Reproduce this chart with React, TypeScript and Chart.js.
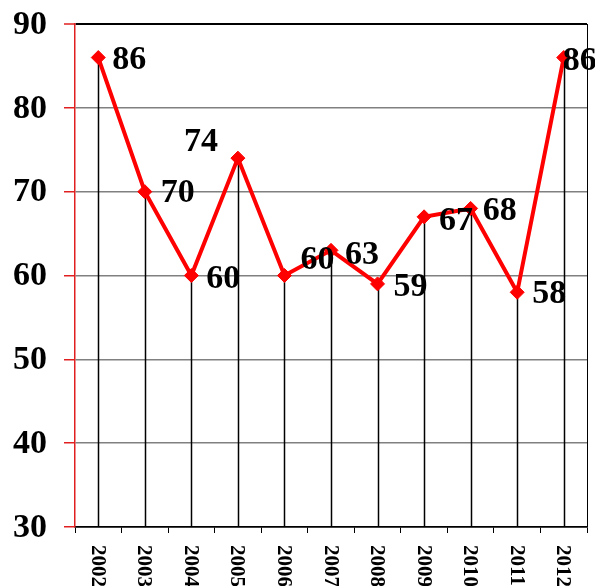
import React, { useEffect, useRef } from "react";
import { Chart, registerables } from "chart.js";

Chart.register(...registerables);

const years = ["2002", "2003", "2004", "2005", "2006", "2007", "2008", "2009", "2010", "2011", "2012"];
const values = [86, 70, 60, 74, 60, 63, 59, 67, 68, 58, 86];
const yTicks = [30, 40, 50, 60, 70, 80, 90];

// label placement relative to each point: [dx, dy, align]
const labelPlacement: [number, number, CanvasTextAlign][] = [
  [14, 3, "left"],
  [16, 2, "left"],
  [15, 4, "left"],
  [-20, -16, "right"],
  [16, -15, "left"],
  [14, 5, "left"],
  [16, 3, "left"],
  [15, 4, "left"],
  [12, 3, "left"],
  [15, 2, "left"],
  [-1, 4, "left"],
];

const SERIF = "'Liberation Serif', 'Times New Roman', Tinos, serif";

const decorPlugin = {
  id: "decor",
  beforeDatasetsDraw(chart: any) {
    const { ctx, chartArea } = chart;
    const meta = chart.getDatasetMeta(0);
    ctx.save();
    ctx.strokeStyle = "#000";
    ctx.lineWidth = 1.5;
    meta.data.forEach((pt: any) => {
      ctx.beginPath();
      ctx.moveTo(Math.round(pt.x) + 0.5, pt.y);
      ctx.lineTo(Math.round(pt.x) + 0.5, chartArea.bottom);
      ctx.stroke();
    });
    ctx.lineWidth = 1;
    ctx.beginPath();
    ctx.moveTo(chartArea.right + 0.5, chartArea.top);
    ctx.lineTo(chartArea.right + 0.5, chartArea.bottom);
    ctx.stroke();
    ctx.restore();
  },
  afterDatasetsDraw(chart: any) {
    const { ctx } = chart;
    const meta = chart.getDatasetMeta(0);
    ctx.save();
    ctx.fillStyle = "#000";
    ctx.font = `bold 34px ${SERIF}`;
    ctx.textBaseline = "middle";
    meta.data.forEach((pt: any, i: number) => {
      const [dx, dy, align] = labelPlacement[i];
      ctx.textAlign = align;
      ctx.fillText(String(values[i]), pt.x + dx, pt.y + dy);
    });
    const xs = chart.scales.x;
    ctx.font = `bold 21px ${SERIF}`;
    ctx.textAlign = "left";
    ctx.textBaseline = "middle";
    years.forEach((y, i) => {
      const x = xs.getPixelForValue(i);
      ctx.save();
      ctx.translate(x - 1, chart.chartArea.bottom + 18);
      ctx.rotate(Math.PI / 2);
      ctx.fillText(y, 0, 0);
      ctx.restore();
    });
    ctx.restore();
  },
};

export default function App() {
  const ref = useRef<HTMLCanvasElement>(null);
  useEffect(() => {
    document.body.style.margin = "0";
    let chart: any = null;
    let cancelled = false;
    const build = () => {
      if (cancelled || !ref.current) return;
      chart = new Chart(ref.current, {
        type: "line",
        data: {
          labels: years,
          datasets: [
            {
              data: values,
              borderColor: "#ff0000",
              backgroundColor: "#ff0000",
              borderWidth: 4,
              pointStyle: "rectRot",
              pointRadius: 7,
              pointBorderWidth: 1,
              pointBackgroundColor: "#ff0000",
              pointBorderColor: "#ff0000",
              tension: 0,
            },
          ],
        },
        options: {
          responsive: false,
          animation: false,
          devicePixelRatio: 1,
          layout: { padding: { top: 24, right: 8, left: 0, bottom: 0 } },
          plugins: { legend: { display: false }, tooltip: { enabled: false } },
          scales: {
            x: {
              type: "category",
              offset: true,
              grid: {
                offset: true,
                drawOnChartArea: false,
                drawTicks: true,
                tickLength: 6,
                color: "#000",
                tickColor: "#000",
                lineWidth: 1,
              },
              border: { color: "#000", width: 1.5 },
              ticks: { display: false },
              afterFit(scale: any) {
                scale.height = 59;
                scale.paddingLeft = 0;
                scale.paddingRight = 0;
              },
            },
            y: {
              min: 30,
              max: 90,
              afterBuildTicks(scale: any) {
                scale.ticks = yTicks.map((v) => ({ value: v }));
              },
              grid: {
                color: (c: any) => (c.tick && (c.tick.value === 90 || c.tick.value === 30) ? "#000" : "#808080"),
                lineWidth: (c: any) => (c.tick && c.tick.value === 90 ? 2 : 1.5),
                tickColor: "#e02020",
                tickLength: 11,
                tickWidth: 1.5,
              },
              border: { color: "#e02020", width: 1.5 },
              ticks: {
                color: "#000",
                padding: 17,
                labelOffset: 1,
                font: { family: SERIF, size: 34, weight: "bold" },
              },
              afterFit(scale: any) {
                scale.width = 75;
                scale.paddingTop = 0;
                scale.paddingBottom = 0;
              },
            },
          },
        },
        plugins: [decorPlugin],
      } as any);
    };
    const fonts: any = (document as any).fonts;
    if (fonts && fonts.load) {
      Promise.all([
        fonts.load(`bold 34px "Liberation Serif"`),
        fonts.load(`bold 21px "Liberation Serif"`),
      ]).then(build, build);
    } else {
      build();
    }
    return () => {
      cancelled = true;
      if (chart) chart.destroy();
    };
  }, []);
  return <canvas ref={ref} width={595} height={586} style={{ display: "block" }} />;
}
